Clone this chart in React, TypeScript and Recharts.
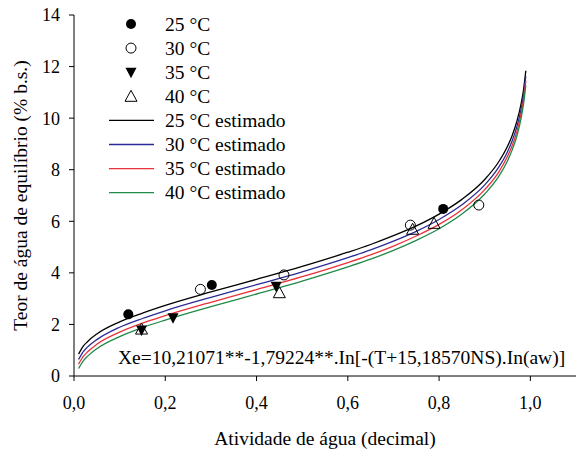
import React from 'react';
import { ComposedChart, Line, Scatter, XAxis, YAxis } from 'recharts';

// water activity values of the fitted curves
const awFit = [0.01, 0.02, 0.03, 0.05, 0.1, 0.15, 0.2, 0.3, 0.4, 0.5, 0.6, 0.65, 0.7, 0.75, 0.8, 0.85, 0.9, 0.93, 0.95, 0.96, 0.97, 0.98, 0.985, 0.99];
const fit25 = [0.85, 1.15, 1.34, 1.63, 2.1, 2.44, 2.74, 3.26, 3.75, 4.25, 4.8, 5.1, 5.44, 5.82, 6.28, 6.85, 7.62, 8.29, 8.91, 9.32, 9.85, 10.58, 11.1, 11.84];
const fit30 = [0.64, 0.94, 1.13, 1.41, 1.89, 2.23, 2.53, 3.05, 3.54, 4.04, 4.59, 4.89, 5.23, 5.61, 6.07, 6.64, 7.41, 8.08, 8.7, 9.11, 9.64, 10.37, 10.89, 11.63];
const fit35 = [0.46, 0.75, 0.94, 1.23, 1.7, 2.05, 2.34, 2.86, 3.35, 3.85, 4.4, 4.7, 5.04, 5.43, 5.88, 6.45, 7.23, 7.89, 8.52, 8.93, 9.45, 10.19, 10.71, 11.44];
const fit40 = [0.29, 0.58, 0.77, 1.06, 1.53, 1.88, 2.17, 2.69, 3.18, 3.68, 4.23, 4.53, 4.87, 5.26, 5.71, 6.28, 7.06, 7.72, 8.35, 8.76, 9.28, 10.02, 10.54, 11.27];

// observed points
const aw25 = [0.119, 0.302, 0.809];
const xe25 = [2.39, 3.53, 6.48];
const aw30 = [0.277, 0.46, 0.737, 0.887];
const xe30 = [3.36, 3.92, 5.85, 6.63];
const aw35 = [0.148, 0.217, 0.443];
const xe35 = [1.78, 2.26, 3.48];
const aw40 = [0.148, 0.45, 0.742, 0.789];
const xe40 = [1.82, 3.23, 5.69, 5.92];

const xTicks = [0, 0.2, 0.4, 0.6, 0.8, 1.0];
const yTicks = [0, 2, 4, 6, 8, 10, 12, 14];

const legendLabels = ['25 °C', '30 °C', '35 °C', '40 °C', '25 °C estimado', '30 °C estimado', '35 °C estimado', '40 °C estimado'];
const equation = 'Xe=10,21071**-1,79224**.In[-(T+15,18570NS).In(aw)]';

const pairs = (xs: number[], ys: number[]) => xs.map((x, i) => ({ x, y: ys[i] }));

const FONT = 'Liberation Serif, Times New Roman, DejaVu Serif, serif';
const colors = ['#000000', '#2a2a96', '#e8323a', '#1f8a48'];

const FilledDot = (p: any) => <circle cx={p.cx} cy={p.cy} r={5} fill="#000" />;
const OpenDot = (p: any) => <circle cx={p.cx} cy={p.cy} r={5} fill="none" stroke="#000" strokeWidth={1} />;
const DownTri = (p: any) => (
  <polygon points={`${p.cx - 5.5},${p.cy - 4.5} ${p.cx + 5.5},${p.cy - 4.5} ${p.cx},${p.cy + 6}`} fill="#000" />
);
const UpTri = (p: any) => (
  <polygon points={`${p.cx},${p.cy - 6} ${p.cx - 6},${p.cy + 5} ${p.cx + 6},${p.cy + 5}`} fill="none" stroke="#000" strokeWidth={1} />
);

const fmt = (v: number) => v.toFixed(1).replace('.', ',');

export default function App() {
  const curves = [fit25, fit30, fit35, fit40];
  const tick = { fill: '#000', fontSize: 18, style: { fontFamily: FONT } };
  const rowY = (i: number) => 24 + i * 24.1;
  return (
    <div style={{ position: 'absolute', left: 0, top: 0, width: 576, height: 449, background: '#fff', fontFamily: FONT }}>
      <ComposedChart width={576} height={449} margin={{ top: 15, right: 0, bottom: 0, left: 0 }} style={{ fontFamily: FONT }}>
        <XAxis
          dataKey="x"
          type="number"
          domain={[0, 1.1]}
          ticks={xTicks}
          tickFormatter={fmt}
          height={73}
          tickSize={5}
          tickMargin={15}
          stroke="#000"
          tick={tick}
          allowDataOverflow
        />
        <YAxis
          type="number"
          domain={[0, 14]}
          ticks={yTicks}
          width={74}
          tickSize={5}
          tickMargin={9}
          stroke="#000"
          tick={tick}
        />
        {curves.map((c, i) => (
          <Line
            key={`fit-${i}`}
            data={pairs(awFit, c)}
            dataKey="y"
            type="monotone"
            stroke={colors[i]}
            strokeWidth={1.3}
            dot={false}
            isAnimationActive={false}
          />
        ))}
        <Scatter data={pairs(aw25, xe25)} dataKey="y" shape={FilledDot} isAnimationActive={false} />
        <Scatter data={pairs(aw30, xe30)} dataKey="y" shape={OpenDot} isAnimationActive={false} />
        <Scatter data={pairs(aw35, xe35)} dataKey="y" shape={DownTri} isAnimationActive={false} />
        <Scatter data={pairs(aw40, xe40)} dataKey="y" shape={UpTri} isAnimationActive={false} />
      </ComposedChart>

      <svg width={576} height={449} style={{ position: 'absolute', left: 0, top: 0, pointerEvents: 'none', fontFamily: FONT }}>
        <g fontSize={19.5} fill="#000">
          <FilledDot cx={131} cy={rowY(0)} />
          <OpenDot cx={131} cy={rowY(1)} />
          <DownTri cx={131} cy={rowY(2)} />
          <UpTri cx={131} cy={rowY(3)} />
          {colors.map((c, i) => (
            <line key={c} x1={109} x2={154} y1={rowY(4 + i)} y2={rowY(4 + i)} stroke={c} strokeWidth={1.3} />
          ))}
          {legendLabels.map((l, i) => (
            <text key={l} x={165} y={rowY(i)} dominantBaseline="central">{l}</text>
          ))}
          <text x={118} y={357} dominantBaseline="central">{equation}</text>
          <text x={325} y={438} textAnchor="middle" dominantBaseline="central">Atividade de água (decimal)</text>
          <text x={20} y={195.5} textAnchor="middle" dominantBaseline="central" transform="rotate(-90 20 195.5)">
            Teor de água de equilíbrio (% b.s.)
          </text>
        </g>
      </svg>
    </div>
  );
}
